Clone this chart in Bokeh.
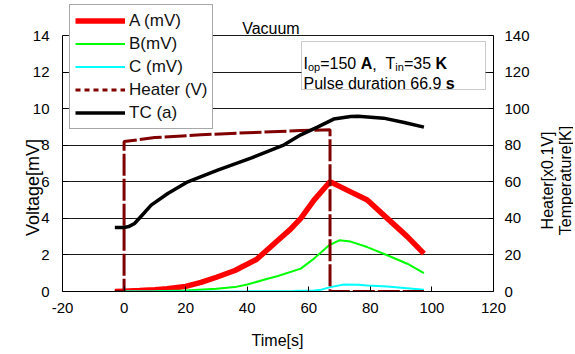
import math
from bokeh.plotting import figure
from bokeh.models import (Range1d, LinearAxis, Legend, LegendItem, Label,
                          BoxAnnotation, FixedTicker, PrintfTickFormatter)
from bokeh.embed import file_html
from bokeh.resources import INLINE

# ---------------- data ----------------
time_a = [-3, 0, 5, 10, 14, 20, 25, 30, 36, 43, 50, 54, 57.4, 61.7, 66.9, 70, 73.6, 79, 85.5, 92, 97.4]
volt_a = [0, 0.02, 0.05, 0.1, 0.15, 0.28, 0.5, 0.78, 1.15, 1.75, 2.8, 3.4, 4.0, 5.0, 6.0, 5.75, 5.45, 5.0, 4.0, 3.0, 2.07]

time_b = [-3, 0, 10, 20, 30, 36, 40, 46.6, 50, 57.4, 61.7, 66.6, 69.9, 73.6, 79, 85.5, 92, 97.4]
volt_b = [0, 0, 0.02, 0.06, 0.15, 0.24, 0.38, 0.7, 0.85, 1.25, 1.8, 2.53, 2.8, 2.73, 2.43, 1.98, 1.52, 1.0]

time_c = [-3, 40, 55, 61.7, 64, 67, 71.4, 76, 79, 85.5, 92, 97.4]
volt_c = [0, 0.01, 0.03, 0.05, 0.1, 0.24, 0.38, 0.37, 0.33, 0.27, 0.18, 0.1]

time_heater = [-3, 0, 0, 10, 25, 40, 57.4, 66.9, 66.9, 97.4]
heater_v = [0, 0, 8.2, 8.42, 8.57, 8.68, 8.8, 8.84, 0, 0]

time_tc = [-3, 0, 1.5, 3.4, 6, 8.8, 14.2, 20.7, 30.4, 41.2, 52, 57.4, 62.8, 68.1, 73.6, 76, 84.3, 91, 97.4]
temp_tc = [35, 35, 35.5, 37.2, 42, 47.2, 53.6, 60, 66.4, 72.9, 80.2, 85.7, 89.9, 94.3, 95.7, 95.8, 94.8, 92.4, 89.9]

x_ticks = [-20, 0, 20, 40, 60, 80, 100, 120]
y_ticks = [0, 2, 4, 6, 8, 10, 12, 14]
t_ticks = [0, 20, 40, 60, 80, 100, 120, 140]

series_labels = ["A (mV)", "B(mV)", "C (mV)", "Heater (V)", "TC (a)"]

# ---------------- layout ----------------
FONT = "Liberation Sans"
W, H = 573, 352
FL, FR = 62, 493          # x = -20 .. 120
FT, FB = 35, 291          # y = 14 .. 0 (frame itself reaches the canvas top)
X0, X1, Y0, Y1 = -20, 120, 0, 14
Y_TOP = Y1 * FB / (FB - FT)          # value at the canvas top
T_TOP = 140 * FB / (FB - FT)

p = figure(width=W, height=H, output_backend="svg", toolbar_location=None,
           x_range=Range1d(X0, X1), y_range=Range1d(Y0, Y_TOP), title=None,
           min_border_left=FL, min_border_right=W - FR,
           min_border_top=0, min_border_bottom=H - FB)
p.background_fill_color = "white"
p.border_fill_color = "white"
p.outline_line_color = None

p.extra_y_ranges = {"temp": Range1d(0, T_TOP)}
rax = LinearAxis(y_range_name="temp")
p.add_layout(rax, "right")

p.yaxis[0].bounds = (0, 14)
rax.bounds = (0, 140)

for ax, tks, so in ((p.xaxis[0], x_ticks, 11), (p.yaxis[0], y_ticks, 13), (rax, t_ticks, 11)):
    ax.ticker = FixedTicker(ticks=tks)
    ax.formatter = PrintfTickFormatter(format="%d")
    ax.major_tick_in = 5
    ax.major_tick_out = 0
    ax.minor_tick_line_color = None
    ax.axis_line_color = "black"
    ax.major_tick_line_color = "black"
    ax.major_label_text_font = FONT
    ax.major_label_text_font_size = "15px"
    ax.major_label_text_color = "black"
    ax.major_label_standoff = so

p.xgrid.visible = False
p.ygrid.ticker = FixedTicker(ticks=y_ticks)
p.ygrid.grid_line_color = "#1a1a1a"
p.ygrid.grid_line_width = 1

# ---------------- series ----------------
NAN = float("nan")
ra = p.line(time_a, volt_a, line_color="#ff0000", line_width=5.5)
rb = p.line(time_b, volt_b, line_color="#00ff00", line_width=2)
rc = p.line(time_c, volt_c, line_color="#00ffff", line_width=2)
rh = p.line(time_heater, heater_v, line_color="#800000", line_width=3, line_dash="22 3")
rh_proxy = p.line(x=[NAN, NAN], y=[NAN, NAN], line_color="#800000", line_width=3, line_dash="5 4")
rt = p.line(time_tc, temp_tc, line_color="black", line_width=3.5, y_range_name="temp")


# ---------------- texts ----------------
def px_to_data(cx, cy):
    x = X0 + (cx - FL) / (FR - FL) * (X1 - X0)
    y = Y0 + (FB - cy) / (FB - FT) * (Y1 - Y0)
    return x, y


bx0, by0 = px_to_data(301, 41)
bx1, by1 = px_to_data(485, 89)
p.add_layout(BoxAnnotation(left=bx0, right=bx1, top=by0, bottom=by1,
                           fill_color="white", fill_alpha=1.0,
                           line_color="#505050", line_width=1))

REG = {' ': 278, '(': 333, ')': 333, '[': 278, ']': 278, '=': 584, '.': 278, ',': 278,
       'A': 667, 'B': 667, 'C': 722, 'H': 722, 'I': 278, 'K': 667, 'P': 667, 'T': 611,
       'V': 667, 'a': 556, 'c': 500, 'd': 556, 'e': 556, 'g': 556, 'i': 222, 'l': 222,
       'm': 833, 'n': 556, 'o': 556, 'p': 556, 'r': 333, 's': 500, 't': 278, 'u': 556,
       'x': 500}
BOLD = {'A': 722, 'K': 722, 'V': 667, 'm': 889, 's': 556, 'x': 556, '.': 278, ' ': 278}


def tw(s, bold, size):
    tab = BOLD if bold else REG
    return sum(tab.get(c, 556) for c in s) * size / 1000.0


def rich(parts, cx, cy, anchor="left"):
    total = sum(tw(t, b, s) for t, b, s, _ in parts)
    pos = 0.0 if anchor == "left" else -total / 2.0
    for t, b, s, sh in parts:
        lead = len(t) - len(t.lstrip(' '))
        start = pos + tw(t[:lead], b, s)
        dx, dy = px_to_data(cx + start, cy + sh)
        p.add_layout(Label(x=dx, y=dy, text=t.strip(' '),
                           text_font=FONT, text_font_style="bold" if b else "normal",
                           text_font_size=f"{s}px", text_align="left",
                           text_baseline="alphabetic", text_color="black"))
        pos += tw(t, b, s)


def side_label(text, cx, cy, size, place, angle=0.0):
    dx, dy = px_to_data(cx, cy)
    p.add_layout(Label(x=dx, y=dy, text=text, angle=angle, text_font=FONT,
                       text_font_size=f"{size}px", text_align="center",
                       text_baseline="alphabetic", text_color="black"), place)


rich([("I", False, 16, 0), ("op", False, 11, 3), ("=150", False, 16, 0), (" A", True, 16, 0),
      (",", False, 16, 0), ("  T", False, 16, 0), ("in", False, 11, 3), ("=35", False, 16, 0),
      (" K", True, 16, 0)], 303, 63)
rich([("Pulse duration 66.9", False, 16, 0), (" s", True, 16, 0)], 303, 83)
rich([("Vacuum", False, 16, 0)], 271, 28, anchor="center")

side_label("Time[s]", 277, 340, 16, "below")
side_label("Voltage[mV]", 32, 187, 18, "left", angle=math.pi / 2)
side_label("Heater[x0.1V]", 547, 180, 16, "right", angle=math.pi / 2)
side_label("Temperature[K]", 565, 180, 16, "right", angle=math.pi / 2)

# ---------------- legend ----------------
legend = Legend(items=[LegendItem(label=series_labels[0], renderers=[ra]),
                       LegendItem(label=series_labels[1], renderers=[rb]),
                       LegendItem(label=series_labels[2], renderers=[rc]),
                       LegendItem(label=series_labels[3], renderers=[rh_proxy]),
                       LegendItem(label=series_labels[4], renderers=[rt])],
                location=(7, 162))
legend.label_text_font = FONT
legend.label_text_font_size = "17px"
legend.label_text_color = "#111111"
legend.glyph_width = 50
legend.glyph_height = 21
legend.label_height = 21
legend.label_standoff = 4
legend.spacing = 2
legend.padding = 5
legend.margin = 0
legend.border_line_color = "#505050"
legend.border_line_width = 1
legend.background_fill_color = "white"
legend.background_fill_alpha = 1.0
p.add_layout(legend)

open("out.html", "w").write(file_html(p, INLINE))
